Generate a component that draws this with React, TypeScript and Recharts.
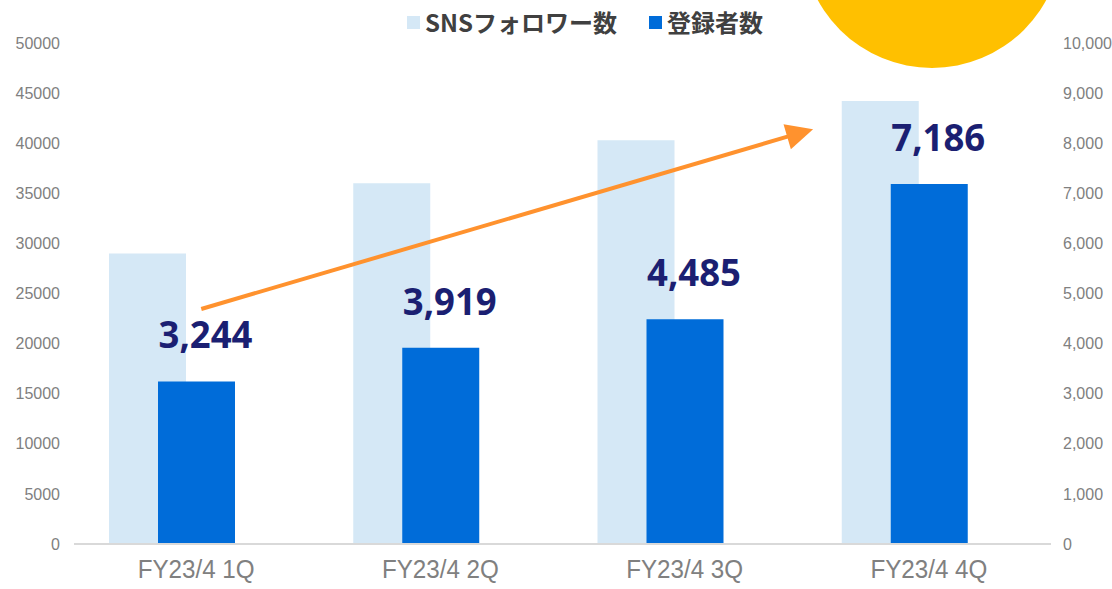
import { Bar, BarChart, LabelList, Legend, ReferenceLine, XAxis, YAxis } from "recharts";

const quarters = ["FY23/4 1Q", "FY23/4 2Q", "FY23/4 3Q", "FY23/4 4Q"];
const snsFollowers = [29000, 36000, 40300, 44200];
const registrants = [3244, 3919, 4485, 7186];
// empty third series from the source sheet, it only keeps the bar slots in place
const blank = [0, 0, 0, 0];

const leftTicks = [0, 5000, 10000, 15000, 20000, 25000, 30000, 35000, 40000, 45000, 50000];
const rightTicks = [0, 1000, 2000, 3000, 4000, 5000, 6000, 7000, 8000, 9000, 10000];

// trend arrow, read on the right axis
const trendFrom = 4660;
const trendTo = 8960;

const rows = quarters.map((q, i) => ({
  quarter: q,
  sns: snsFollowers[i],
  reg: registrants[i],
  blank: blank[i],
}));

const LIGHT = "#d5e8f6";
const DARK = "#006cd9";
const NAVY = "#1b1f72";
const ORANGE = "#ff922e";

function TrendArrow(props: any) {
  const { x1, y1, x2, y2 } = props;
  const dx = x2 - x1;
  const dy = y2 - y1;
  const sx = x1 + dx * 0.007;
  const sy = y1 + dy * 0.007;
  const tx = x1 + dx * 0.842;
  const ty = y1 + dy * 0.842;
  const len = Math.hypot(dx, dy);
  const ux = dx / len;
  const uy = dy / len;
  const head = 27;
  const half = 13;
  const bx = tx - ux * head;
  const by = ty - uy * head;
  return (
    <g>
      <line x1={sx} y1={sy} x2={bx + ux * 2} y2={by + uy * 2} stroke={ORANGE} strokeWidth={4} />
      <polygon
        points={`${tx},${ty} ${bx - uy * half},${by + ux * half} ${bx + uy * half},${by - ux * half}`}
        fill={ORANGE}
      />
    </g>
  );
}

function ValueLabel(props: any) {
  const vb = props.viewBox ?? props;
  const { x, y, width } = vb;
  return (
    <text
      x={x + width / 2 + 9}
      y={y - 33}
      textAnchor="middle"
      fill={NAVY}
      fontSize={38}
      fontWeight={700}
      fontFamily="'Noto Sans', sans-serif"
      textLength={94}
      lengthAdjust="spacingAndGlyphs"
    >
      {Number(props.value).toLocaleString("en-US")}
    </text>
  );
}

function QuarterTick(props: any) {
  const { x, y, payload } = props;
  return (
    <text
      x={x}
      y={y + 32}
      textAnchor="middle"
      fill="#808080"
      fontSize={26}
      fontFamily="'Liberation Sans', Arial, sans-serif"
      textLength={117}
      lengthAdjust="spacingAndGlyphs"
    >
      {payload.value}
    </text>
  );
}

function LegendBox() {
  const items = [
    { label: "SNSフォロワー数", color: LIGHT },
    { label: "登録者数", color: DARK },
  ];
  return (
    <div style={{ display: "flex", alignItems: "center", gap: 32 }}>
      {items.map((it) => (
        <div key={it.label} style={{ display: "flex", alignItems: "center" }}>
          <span style={{ width: 13, height: 13, background: it.color, marginRight: 5 }} />
          <span
            style={{
              fontFamily: "'Noto Sans CJK JP', sans-serif",
              fontWeight: 700,
              fontSize: 24,
              color: "#404040",
              lineHeight: "28px",
              whiteSpace: "nowrap",
            }}
          >
            {it.label}
          </span>
        </div>
      ))}
    </div>
  );
}

export default function App() {
  return (
    <div
      style={{
        position: "relative",
        width: 1112,
        height: 589,
        overflow: "hidden",
        background: "#fff",
        fontFamily: "'Liberation Sans', Arial, sans-serif",
      }}
    >
      <style>{`body{margin:0}`}</style>
      <div
        style={{
          position: "absolute",
          left: 802,
          top: -192,
          width: 260,
          height: 260,
          borderRadius: "50%",
          background: "#ffc000",
        }}
      />
      <BarChart
        width={1112}
        height={589}
        data={rows}
        margin={{ top: 43, right: 0, bottom: 0, left: 0 }}
        barSize={77}
        barGap={-28}
        barCategoryGap={0}
      >
        <XAxis
          dataKey="quarter"
          axisLine={{ stroke: "#d9d9d9", strokeWidth: 2 }}
          tickLine={false}
          tickSize={0}
          height={45}
          tick={<QuarterTick />}
        />
        <YAxis
          yAxisId="left"
          domain={[0, 50000]}
          ticks={leftTicks}
          width={74}
          axisLine={false}
          tickLine={false}
          tickSize={0}
          tickMargin={14}
          tick={{ fill: "#808080", fontSize: 16 }}
        />
        <YAxis
          yAxisId="right"
          orientation="right"
          domain={[0, 10000]}
          ticks={rightTicks}
          width={61}
          axisLine={false}
          tickLine={false}
          tickSize={0}
          tickMargin={12}
          tick={{ fill: "#808080", fontSize: 16, textAnchor: "start" }}
          tickFormatter={(v: number) => v.toLocaleString("en-US")}
        />
        <Legend
          verticalAlign="middle"
          align="center"
          wrapperStyle={{ top: 8, left: 407, width: "auto" }}
          content={() => <LegendBox />}
        />
        <Bar yAxisId="left" dataKey="sns" name="SNSフォロワー数" fill={LIGHT} isAnimationActive={false} />
        <Bar yAxisId="right" dataKey="reg" name="登録者数" fill={DARK} isAnimationActive={false}>
          <LabelList dataKey="reg" content={ValueLabel} />
        </Bar>
        <Bar yAxisId="right" dataKey="blank" fill={DARK} legendType="none" isAnimationActive={false} />
        <ReferenceLine
          yAxisId="right"
          segment={[
            { x: quarters[0], y: trendFrom },
            { x: quarters[3], y: trendTo },
          ]}
          ifOverflow="visible"
          shape={TrendArrow}
        />
      </BarChart>
    </div>
  );
}
